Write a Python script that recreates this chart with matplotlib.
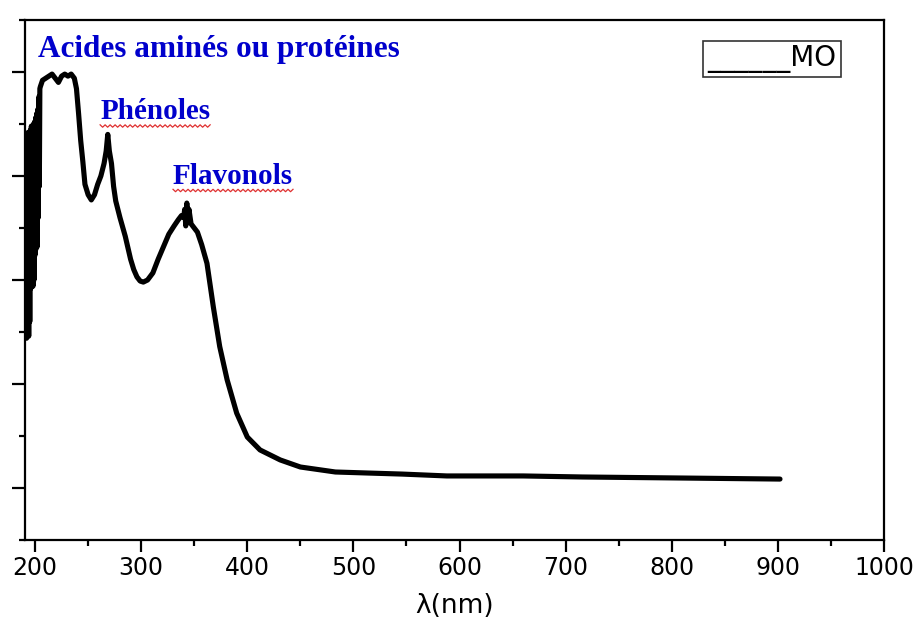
import matplotlib
matplotlib.use("Agg")
import matplotlib.pyplot as plt
from matplotlib.lines import Line2D
from matplotlib.transforms import IdentityTransform
import numpy as np

# ---- data ----
wavelength = [
    191.0, 191.5, 192.0, 192.5, 193.0, 193.5, 194.0, 194.5, 195.0, 195.5,
    196.0, 196.5, 197.0, 197.5, 198.0, 198.5, 199.0, 199.5, 200.0, 200.5,
    201.0, 201.5, 202.0, 202.5, 203.0, 203.5, 204.0, 204.5, 205.0,
    207, 210, 213, 216, 219, 222, 225, 228, 231, 234, 237, 239, 241, 243,
    245, 247, 250, 253, 256, 259, 262, 265, 267, 268.5, 270, 272, 274, 276,
    280, 285, 290, 293, 296, 299, 302, 306, 311, 316, 321, 326, 331, 335,
    338, 340, 341, 342, 343, 344, 345, 347, 350, 353, 357, 362, 368, 374,
    381, 390, 400, 412, 431, 450, 483, 514, 546, 588, 660, 716, 810, 902,
]
absorbance = [
    1.25, 2.18, 1.22, 2.20, 1.24, 2.21, 1.23, 2.19, 1.30, 2.22,
    1.46, 2.24, 1.48, 2.23, 1.47, 2.25, 1.50, 2.26, 1.62, 2.28,
    1.65, 2.30, 1.66, 2.32, 1.80, 2.38, 1.95, 2.42, 2.43,
    2.46, 2.47, 2.48, 2.49, 2.47, 2.45, 2.48, 2.49, 2.48, 2.49, 2.47, 2.42,
    2.30, 2.17, 2.07, 1.96, 1.91, 1.885, 1.91, 1.96, 2.00, 2.06, 2.12, 2.20,
    2.12, 2.06, 1.95, 1.88, 1.80, 1.71, 1.60, 1.55, 1.515, 1.495, 1.49, 1.50,
    1.534, 1.60, 1.66, 1.72, 1.76, 1.79, 1.81, 1.80, 1.84, 1.76, 1.87, 1.78,
    1.84, 1.77, 1.75, 1.73, 1.67, 1.58, 1.37, 1.18, 1.02, 0.86, 0.745, 0.683,
    0.635, 0.601, 0.577, 0.572, 0.567, 0.558, 0.558, 0.553, 0.548, 0.543,
]
series_label = "MO"
annotations = ["Acides aminés ou protéines", "Phénoles", "Flavonols"]
annotation_x = [202.8, 261.3, 330.0]
annotation_y = [2.61, 2.31, 2.0]
annotation_size = [22.5, 21, 21]
x_ticks = [200, 300, 400, 500, 600, 700, 800, 900, 1000]
x_label = "λ(nm)"

# ---- figure ----
fig = plt.figure(figsize=(9.19, 6.19), dpi=100)
ax = fig.add_axes([0.0272, 0.1276, 0.9347, 0.8401])

ax.plot(wavelength, absorbance, color="black", lw=3.7,
        solid_joinstyle="round", solid_capstyle="round")

ax.set_xlim(190.5, 1000)
ax.set_ylim(0.25, 2.75)

ax.set_xticks(x_ticks)
ax.set_xticks(np.arange(250, 1000, 100), minor=True)
ax.set_yticks([0.5, 1.0, 1.5, 2.0, 2.5])
ax.set_yticks([0.25, 0.75, 1.25, 1.75, 2.25, 2.75], minor=True)
ax.set_yticklabels([])

for s in ax.spines.values():
    s.set_linewidth(1.6)

ax.tick_params(axis="x", which="major", direction="out", length=8.6, width=1.6,
               labelsize=17, pad=3)
ax.tick_params(axis="x", which="minor", direction="out", length=4.3, width=1.6)
ax.tick_params(axis="y", which="major", direction="out", length=9.4, width=1.6)
ax.tick_params(axis="y", which="minor", direction="out", length=4.5, width=1.6)
for lbl in ax.get_xticklabels():
    lbl.set_fontfamily("DejaVu Sans")

ax.set_xlabel(x_label, fontsize=19, family="DejaVu Sans", labelpad=9)

blue = "#0000CC"
txts = []
for t, xx, yy, fs in zip(annotations, annotation_x, annotation_y, annotation_size):
    txts.append(ax.text(xx, yy, t, color=blue, fontsize=fs, fontweight="bold",
                        family="Liberation Serif", ha="left", va="center"))

# legend-like box
ax.text(0.9445, 0.925, "______" + series_label, transform=ax.transAxes,
        fontsize=20, family="DejaVu Sans", color="black", ha="right", va="center",
        bbox=dict(boxstyle="square,pad=0.16", fc="white", ec="#333333", lw=1.2))

# red spell-check squiggles under two labels
fig.canvas.draw()
renderer = fig.canvas.get_renderer()
for t in txts[1:]:
    bb = t.get_window_extent(renderer)
    xs = np.arange(bb.x0, bb.x1, 2.5)
    ys = bb.y0 - 1 + np.where(np.arange(len(xs)) % 2 == 0, 1.2, -1.2)
    fig.add_artist(Line2D(xs, ys, transform=IdentityTransform(),
                          color="#E03030", lw=0.9))

fig.savefig("out.png", dpi=100, facecolor="white")
